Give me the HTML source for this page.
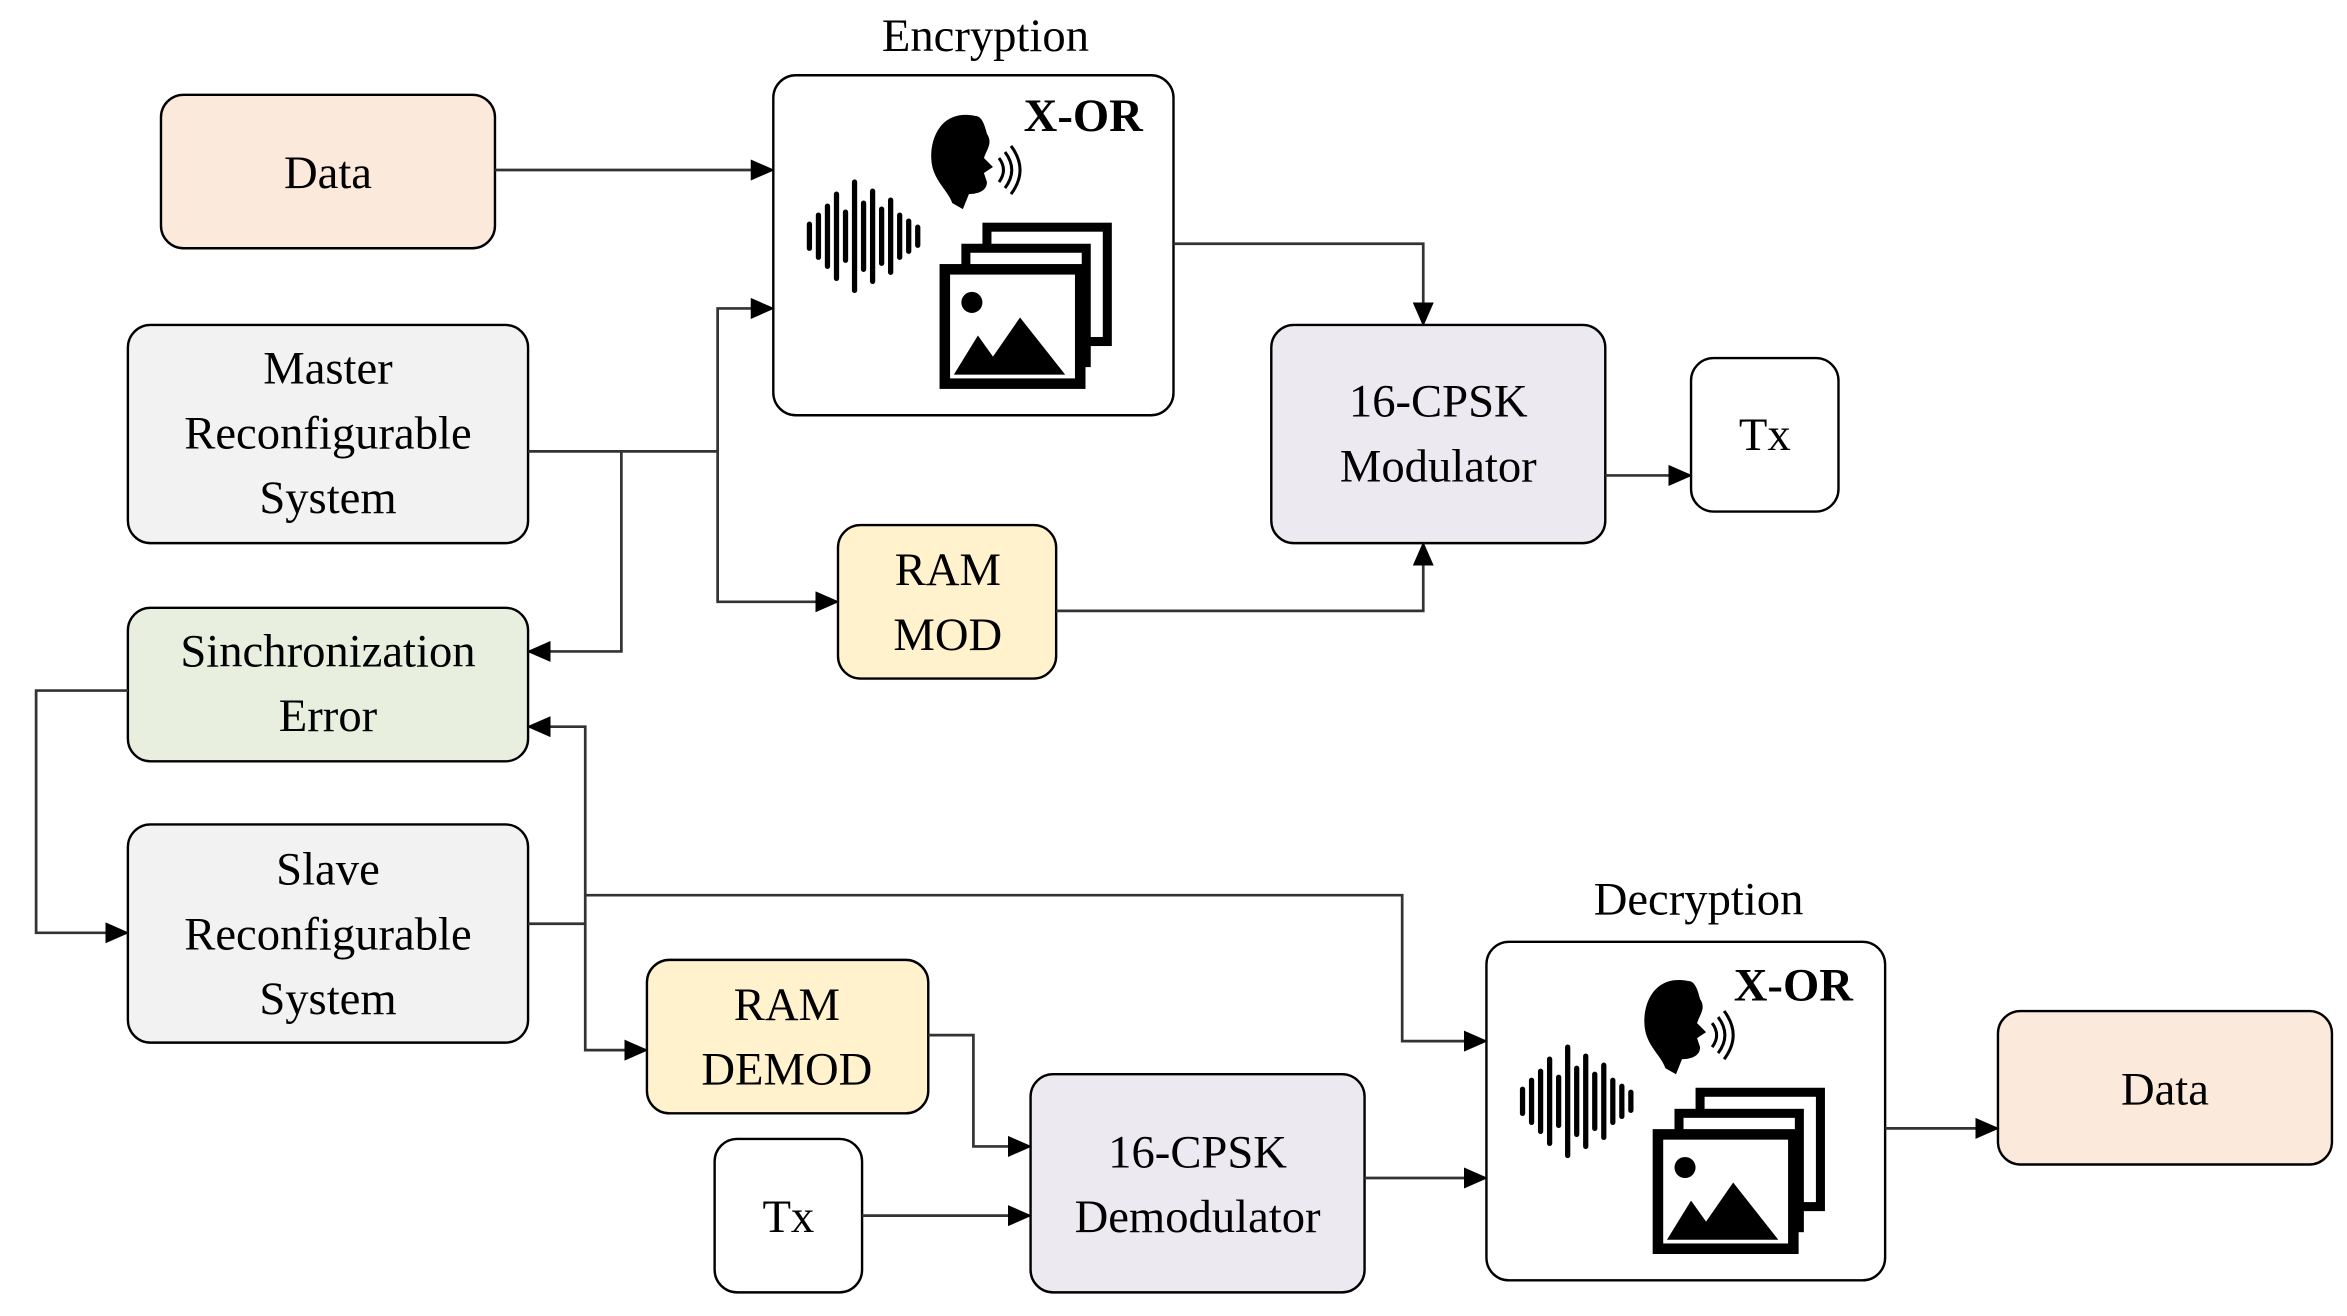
<!DOCTYPE html>
<html><head><style>html,body{margin:0;padding:0;background:#fff}svg{display:block}</style></head><body>
<svg width="2347" height="1316" viewBox="0 0 1560 874.7" xmlns="http://www.w3.org/2000/svg" font-family="'Liberation Serif', serif">
<defs>
<marker id="a" markerWidth="16" markerHeight="14" refX="15" refY="7" orient="auto" markerUnits="userSpaceOnUse"><path d="M0,0 L16,7 L0,14 z" fill="#000"/></marker>
<g id="icons">
 <g stroke="#000" stroke-width="3.5" stroke-linecap="round">
  <line x1="0" y1="-8" x2="0" y2="8"/><line x1="6" y1="-14" x2="6" y2="14"/><line x1="12" y1="-20" x2="12" y2="20"/><line x1="18" y1="-28" x2="18" y2="28"/><line x1="24" y1="-16" x2="24" y2="16"/><line x1="30" y1="-36" x2="30" y2="36"/><line x1="36" y1="-22" x2="36" y2="22"/><line x1="42" y1="-30" x2="42" y2="30"/><line x1="48" y1="-18" x2="48" y2="18"/><line x1="54" y1="-24" x2="54" y2="24"/><line x1="60" y1="-14" x2="60" y2="14"/><line x1="66" y1="-10" x2="66" y2="10"/><line x1="72" y1="-6" x2="72" y2="6"/>
 </g>
 <path d="M110,-80 C85,-85 78,-60 82,-45 C85,-35 92,-30 95,-22 L102,-18 L106,-28 C112,-28 118,-30 118,-36 L116,-42 L122,-46 L116,-52 C118,-58 122,-62 118,-68 C116,-76 114,-80 110,-80 Z" fill="#000"/>
 <path d="M126,-52 q6,8 0,16 M130,-56 q9,12 0,24 M134,-60 q12,16 0,32" stroke="#000" stroke-width="2" fill="none"/>
 <rect x="118" y="-6" width="80" height="76" fill="#fff" stroke="#000" stroke-width="6"/>
 <rect x="104" y="8" width="80" height="76" fill="#fff" stroke="#000" stroke-width="6"/>
 <rect x="90" y="22" width="90" height="76" fill="#fff" stroke="#000" stroke-width="7"/>
 <circle cx="108" cy="44" r="7" fill="#000"/>
 <path d="M96,92 L112,66 L122,80 L140,54 L170,92 Z" fill="#000"/>
</g>
</defs>
<g stroke="#000" stroke-width="1.6">
 <rect x="107" y="63" width="222" height="102" rx="15" fill="#fbe9dc"/>
 <rect x="514" y="50" width="266" height="226" rx="15" fill="#fff"/>
 <rect x="85" y="216" width="266" height="145" rx="15" fill="#f2f2f2"/>
 <rect x="85" y="404" width="266" height="102" rx="15" fill="#e9efdf"/>
 <rect x="85" y="548" width="266" height="145" rx="15" fill="#f2f2f2"/>
 <rect x="557" y="349" width="145" height="102" rx="15" fill="#fff2cc"/>
 <rect x="845" y="216" width="222" height="145" rx="15" fill="#ece9f1"/>
 <rect x="1124" y="238" width="98" height="102" rx="15" fill="#fff"/>
 <rect x="430" y="638" width="187" height="102" rx="15" fill="#fff2cc"/>
 <rect x="475" y="757" width="98" height="102" rx="15" fill="#fff"/>
 <rect x="685" y="714" width="222" height="145" rx="15" fill="#ece9f1"/>
 <rect x="988" y="626" width="265" height="225" rx="15" fill="#fff"/>
 <rect x="1328" y="672" width="222" height="102" rx="15" fill="#fbe9dc"/>
</g>
<use href="#icons" x="538" y="157"/>
<use href="#icons" x="1012" y="732"/>
<g stroke="#333" stroke-width="1.8" fill="none" marker-end="url(#a)">
 <path d="M329,113 H514"/>
 <path d="M351,300 H477 V205 H514"/>
 <path d="M477,300 V400 H557"/>
 <path d="M413,300 V433 H351"/>
 <path d="M85,459 H24 V620 H85"/>
 <path d="M351,614 H389 V483 H351"/>
 <path d="M389,614 V698 H430"/>
 <path d="M389,595 H932 V692 H988"/>
 <path d="M780,162 H946 V216"/>
 <path d="M702,406 H946 V361"/>
 <path d="M1067,316 H1124"/>
 <path d="M617,688 H647 V762 H685"/>
 <path d="M573,808 H685"/>
 <path d="M907,783 H988"/>
 <path d="M1253,750 H1328"/>
</g>
<g font-size="31" text-anchor="middle" fill="#000">
 <text x="655" y="34">Encryption</text>
 <text x="1129" y="608">Decryption</text>
 <text x="218" y="125">Data</text>
 <text x="218" y="255">Master</text>
 <text x="218" y="298">Reconfigurable</text>
 <text x="218" y="341">System</text>
 <text x="218" y="443">Sinchronization</text>
 <text x="218" y="486">Error</text>
 <text x="218" y="588">Slave</text>
 <text x="218" y="631">Reconfigurable</text>
 <text x="218" y="674">System</text>
 <text x="630" y="389">RAM</text>
 <text x="630" y="432">MOD</text>
 <text x="956" y="277">16-CPSK</text>
 <text x="956" y="320">Modulator</text>
 <text x="1173" y="299">Tx</text>
 <text x="523" y="678">RAM</text>
 <text x="523" y="721">DEMOD</text>
 <text x="524" y="819">Tx</text>
 <text x="796" y="776">16-CPSK</text>
 <text x="796" y="819">Demodulator</text>
 <text x="1439" y="734">Data</text>
 <text x="720" y="87" font-weight="bold">X-OR</text>
 <text x="1192" y="665" font-weight="bold">X-OR</text>
</g>
</svg>
</body></html>
